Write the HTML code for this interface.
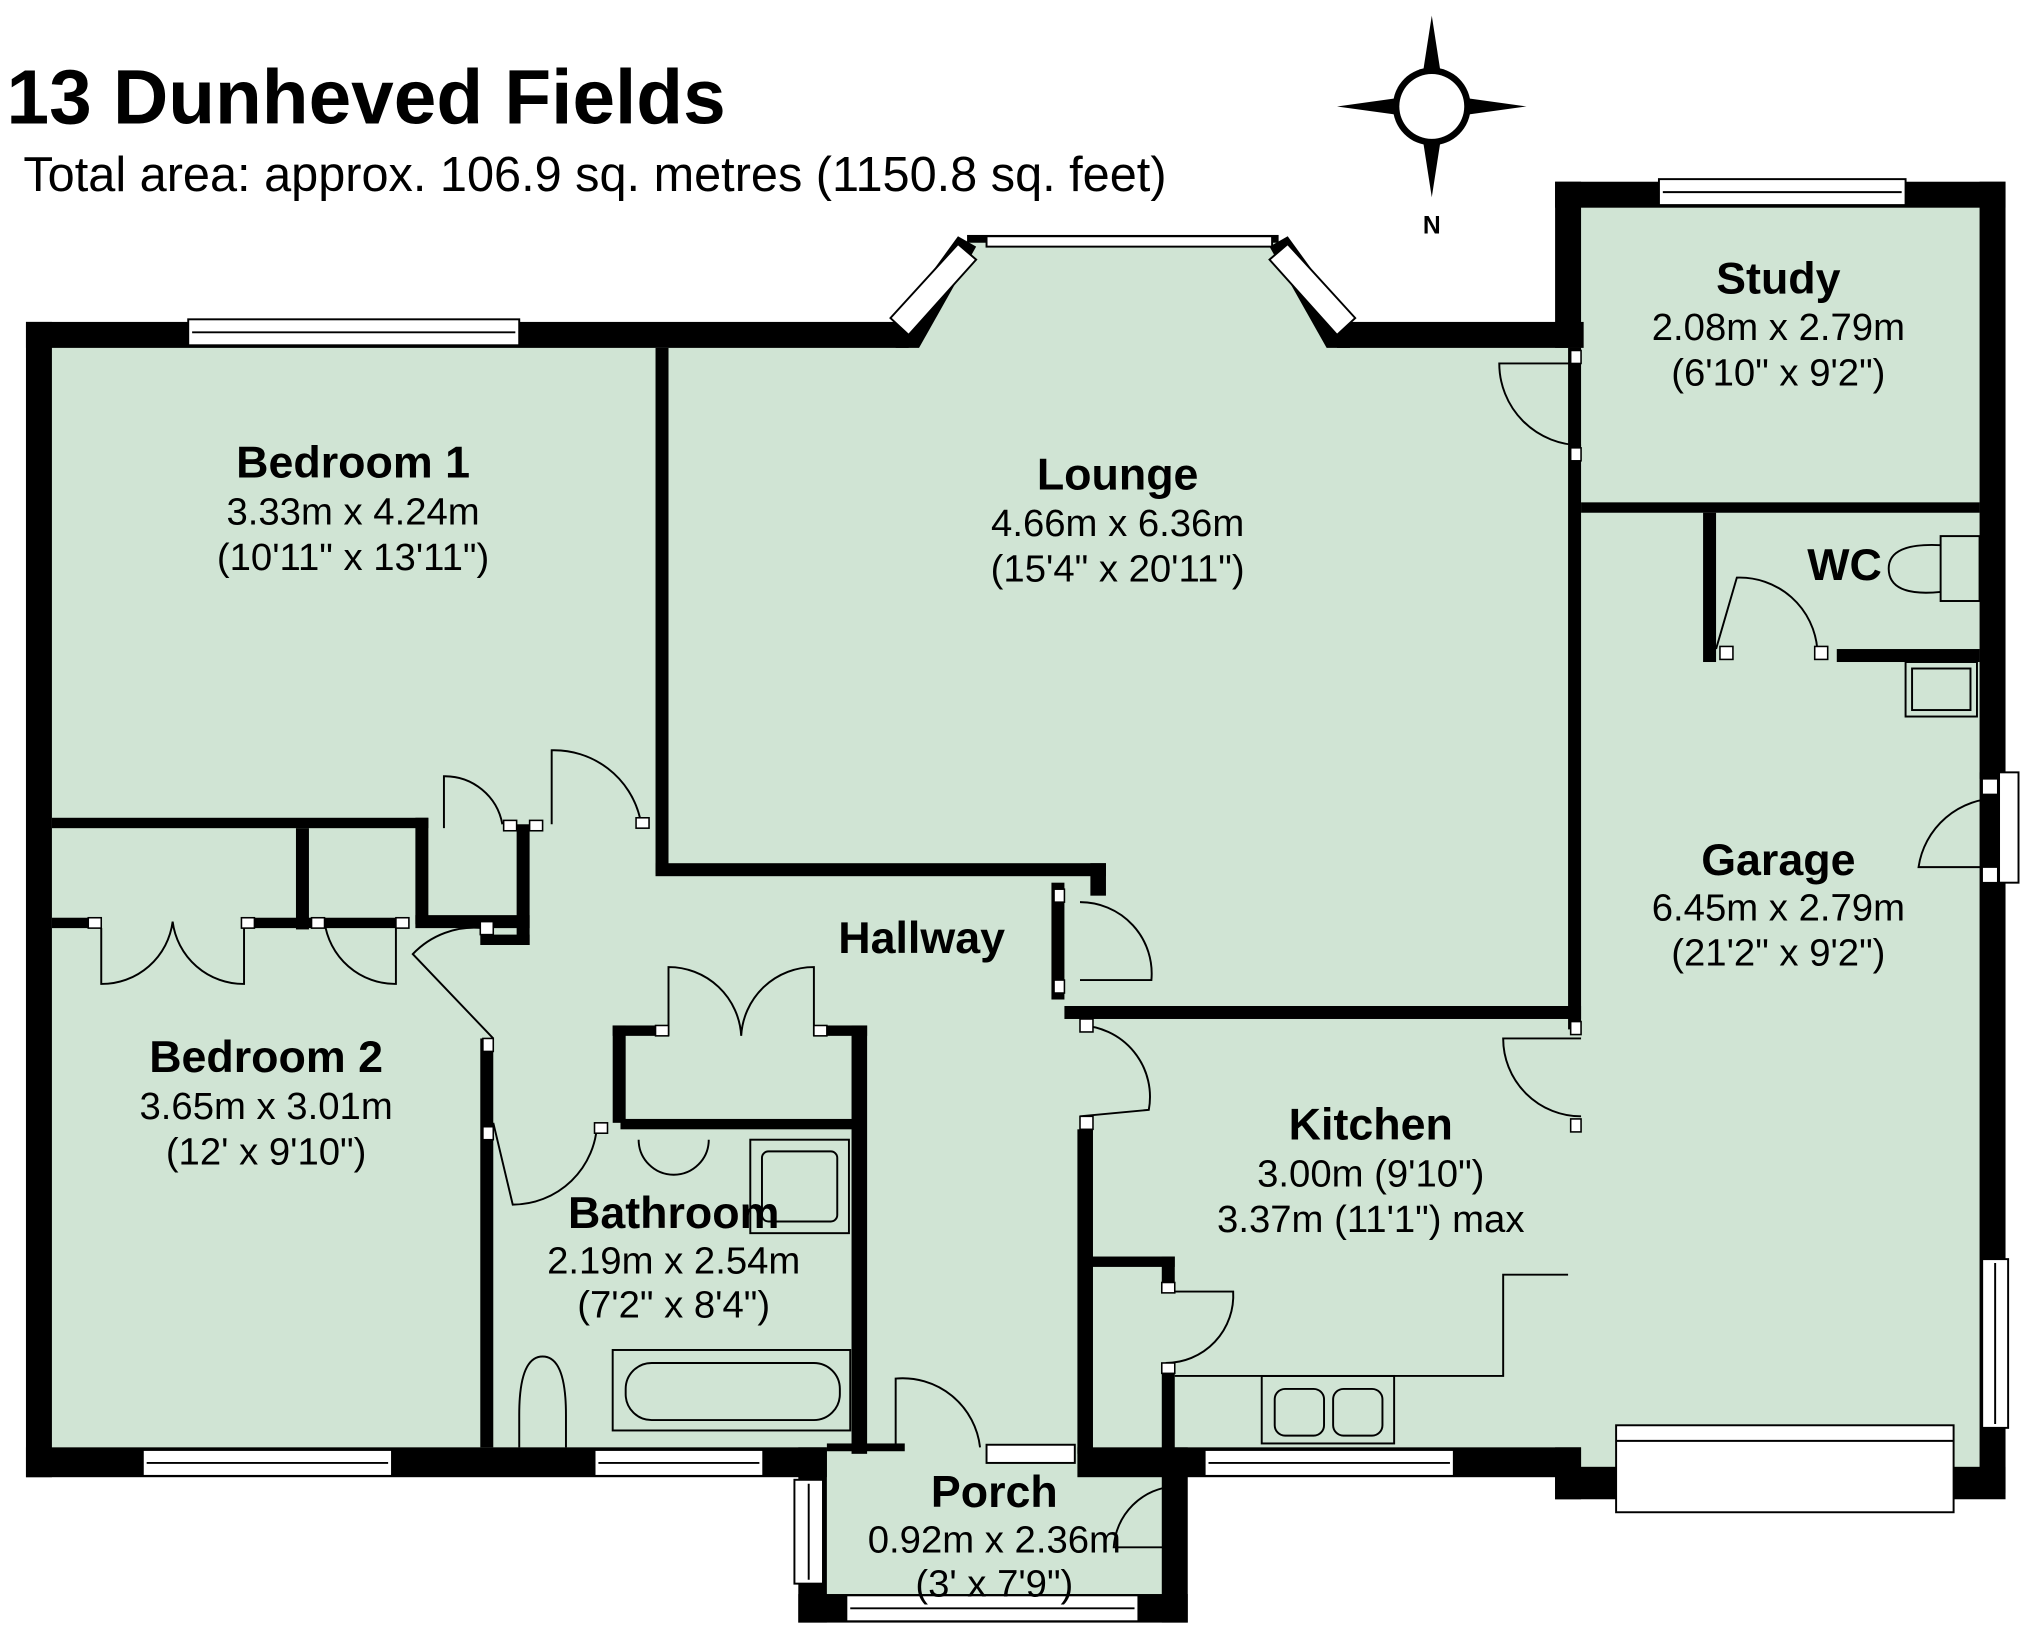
<!DOCTYPE html>
<html><head><style>html,body{margin:0;padding:0;background:#fff}svg{display:block}</style></head><body>
<svg width="2025" height="1644" viewBox="0 0 1560 1266.5" preserveAspectRatio="none" xmlns="http://www.w3.org/2000/svg" font-family="Liberation Sans, sans-serif">
<polygon fill="#d0e4d4" points="30,258 700,258 745,185 985,185 1030,258 1208,258 1208,150 1535,150 1535,1140 1208,1140 1208,1128 905,1128 905,1240 626,1240 626,1128 30,1128"/>
<g fill="#000">
<rect x="20" y="248" width="680" height="20"/>
<rect x="20" y="248" width="20" height="890"/>
<rect x="20" y="1115" width="617" height="23"/>
<polygon points="690,248 738,182 752,190 708,268 690,268"/>
<polygon points="978,190 992,182 1040,248 1040,268 1022,268"/>
<rect x="745" y="181" width="240" height="6"/>
<rect x="1030" y="248" width="190" height="20"/>
<rect x="1198" y="140" width="20" height="128"/>
<rect x="1198" y="140" width="347" height="20"/>
<rect x="1525" y="140" width="20" height="1010"/>
<rect x="1198" y="1130" width="347" height="25"/>
<rect x="1198" y="1115" width="20" height="40"/>
<rect x="615" y="1115" width="22" height="135"/>
<rect x="615" y="1228" width="300" height="22"/>
<rect x="895" y="1115" width="20" height="135"/>
<rect x="830" y="1115" width="388" height="23"/>
<rect x="637" y="1112" width="60" height="6"/>
<rect x="505" y="268" width="10" height="405"/>
<rect x="505" y="665" width="347" height="10"/>
<rect x="840" y="665" width="12" height="25"/>
<rect x="1208" y="268" width="10" height="525"/>
<rect x="820" y="775" width="398" height="10"/>
<rect x="1218" y="387" width="307" height="8"/>
<rect x="1312" y="395" width="10" height="115"/>
<rect x="1415" y="500" width="110" height="10"/>
<rect x="40" y="630" width="290" height="8"/>
<rect x="228" y="638" width="10" height="78"/>
<rect x="320" y="630" width="10" height="82"/>
<rect x="320" y="705" width="88" height="10"/>
<rect x="398" y="635" width="10" height="93"/>
<rect x="370" y="720" width="38" height="8"/>
<rect x="40" y="707" width="30" height="8"/>
<rect x="190" y="707" width="120" height="8"/>
<rect x="370" y="800" width="10" height="315"/>
<rect x="472" y="790" width="10" height="75"/>
<rect x="472" y="790" width="40" height="8"/>
<rect x="630" y="790" width="38" height="8"/>
<rect x="656" y="790" width="12" height="330"/>
<rect x="478" y="862" width="180" height="8"/>
<rect x="830" y="870" width="12" height="250"/>
<rect x="840" y="968" width="65" height="8"/>
<rect x="895" y="968" width="10" height="20"/>
<rect x="895" y="1055" width="10" height="65"/>
<rect x="810" y="680" width="10" height="90"/>
<rect x="1525" y="595" width="20" height="5"/>
</g>
<g fill="#fff" stroke="#000" stroke-width="1.5">
<rect x="145" y="246" width="255" height="20"/><line x1="148" y1="256" x2="397" y2="256"/>
<rect x="1278" y="138" width="190" height="20"/><line x1="1281" y1="148" x2="1465" y2="148"/>
<rect x="110" y="1117" width="192" height="20"/><line x1="113" y1="1127" x2="299" y2="1127"/>
<rect x="458" y="1117" width="130" height="20"/><line x1="461" y1="1127" x2="585" y2="1127"/>
<rect x="928" y="1117" width="192" height="20"/><line x1="931" y1="1127" x2="1117" y2="1127"/>
<rect x="652" y="1229" width="225" height="20"/><line x1="655" y1="1239" x2="874" y2="1239"/>
<rect x="612" y="1140" width="22" height="80"/><line x1="623" y1="1143" x2="623" y2="1217"/>
<rect x="1527" y="970" width="20" height="130"/><line x1="1537" y1="973" x2="1537" y2="1097"/>
<rect x="1540" y="595" width="15" height="85"/>
<rect x="760" y="1113" width="68" height="14"/>
<rect x="1245" y="1098" width="260" height="67"/><line x1="1245" y1="1110" x2="1505" y2="1110"/>
<rect x="760" y="182" width="220" height="8"/>
<polygon points="686,245 738,188 752,200 700,258"/>
<polygon points="978,200 992,188 1044,245 1030,258"/>
</g>
<g fill="none" stroke="#000" stroke-width="1.5">
<path d="M1218,280 L1155,280 A63,63 0 0 0 1218,343"/>
<path d="M1322,500 L1338,445 A60,60 0 0 1 1400,500"/>
<path d="M1540,615 A62,62 0 0 0 1478,668 L1540,668"/>
<path d="M832,695 A55,55 0 0 1 887,755 L832,755"/>
<path d="M832,790 A55,55 0 0 1 885,855 L832,860"/>
<path d="M1218,800 L1158,800 A60,60 0 0 0 1218,860"/>
<path d="M905,995 L950,995 A52,52 0 0 1 898,1050"/>
<path d="M690,1115 L690,1062 A60,60 0 0 1 755,1115"/>
<path d="M905,1145 A50,50 0 0 0 858,1192 L905,1192"/>
<path d="M342,638 L342,598 A45,45 0 0 1 387,635"/>
<path d="M425,635 L425,578 A68,68 0 0 1 493,630"/>
<path d="M380,800 L318,735 A65,65 0 0 1 372,715"/>
<path d="M380,865 L395,928 A65,65 0 0 0 460,865"/>
<path d="M78,715 L78,758 A55,55 0 0 0 133,710 A55,55 0 0 0 188,758 L188,715"/>
<path d="M250,710 A55,55 0 0 0 305,758 L305,710"/>
<path d="M515,798 L515,745 A56,56 0 0 1 571,798 A56,56 0 0 1 627,745 L627,798"/>
<rect x="578" y="878" width="76" height="72"/><rect x="587" y="887" width="58" height="54" rx="5"/>
<path d="M492,878 A27,27 0 0 0 546,878"/>
<rect x="472" y="1040" width="183" height="62"/><rect x="482" y="1050" width="165" height="44" rx="20"/>
<path d="M400,1115 L400,1090 Q400,1045 418,1045 Q436,1045 436,1090 L436,1115"/>
<rect x="972" y="1060" width="102" height="52"/><rect x="982" y="1070" width="38" height="36" rx="8"/><rect x="1027" y="1070" width="38" height="36" rx="8"/>
<path d="M905,1060 L1158,1060 L1158,982 L1208,982"/>
<rect x="1468" y="510" width="55" height="42"/><rect x="1473" y="515" width="45" height="32"/>
<rect x="1495" y="413" width="30" height="50"/><path d="M1495,420 Q1455,418 1455,438 Q1455,460 1495,456"/>
</g>
<g fill="#fff" stroke="#000" stroke-width="1.2">
<rect x="1210" y="270" width="8" height="10"/><rect x="1210" y="345" width="8" height="10"/>
<rect x="1210" y="787" width="8" height="10"/><rect x="1210" y="862" width="8" height="10"/>
<rect x="1325" y="498" width="10" height="10"/><rect x="1398" y="498" width="10" height="10"/>
<rect x="388" y="632" width="10" height="8"/><rect x="408" y="632" width="10" height="8"/><rect x="490" y="630" width="10" height="8"/>
<rect x="832" y="785" width="10" height="10"/><rect x="832" y="860" width="10" height="10"/>
<rect x="812" y="685" width="8" height="10"/><rect x="812" y="755" width="8" height="10"/>
<rect x="370" y="710" width="10" height="10"/><rect x="372" y="800" width="8" height="10"/><rect x="372" y="868" width="8" height="10"/>
<rect x="458" y="865" width="10" height="8"/><rect x="505" y="790" width="10" height="8"/><rect x="627" y="790" width="10" height="8"/>
<rect x="68" y="707" width="10" height="8"/><rect x="186" y="707" width="10" height="8"/><rect x="240" y="707" width="10" height="8"/><rect x="305" y="707" width="10" height="8"/>
<rect x="895" y="988" width="10" height="8"/><rect x="895" y="1050" width="10" height="8"/>
<rect x="1527" y="600" width="12" height="12"/><rect x="1527" y="668" width="12" height="12"/>
</g>
<g>
<polygon points="1103,12 1112,70 1103,82 1094,70" fill="#000"/>
<polygon points="1103,152 1112,94 1103,82 1094,94" fill="#000"/>
<polygon points="1030,82 1088,74 1103,82 1088,90" fill="#000"/>
<polygon points="1176,82 1118,74 1103,82 1118,90" fill="#000"/>
<circle cx="1103" cy="82" r="30" fill="#000"/><circle cx="1103" cy="82" r="25" fill="#fff"/>
<text x="1103" y="180" font-size="19" font-weight="bold" text-anchor="middle">N</text>
</g>
<text x="5" y="95" font-size="59" font-weight="bold">13 Dunheved Fields</text>
<text x="18" y="147" font-size="37.5">Total area: approx. 106.9 sq. metres (1150.8 sq. feet)</text>
<g text-anchor="middle" font-size="29.5">
<text x="272" y="368" font-size="34.5" font-weight="bold">Bedroom 1</text><text x="272" y="404">3.33m x 4.24m</text><text x="272" y="439">(10'11" x 13'11")</text>
<text x="861" y="377" font-size="34.5" font-weight="bold">Lounge</text><text x="861" y="413">4.66m x 6.36m</text><text x="861" y="448">(15'4" x 20'11")</text>
<text x="1370" y="226" font-size="34.5" font-weight="bold">Study</text><text x="1370" y="262">2.08m x 2.79m</text><text x="1370" y="297">(6'10" x 9'2")</text>
<text x="1421" y="447" font-size="34.5" font-weight="bold">WC</text>
<text x="1370" y="674" font-size="34.5" font-weight="bold">Garage</text><text x="1370" y="709">6.45m x 2.79m</text><text x="1370" y="744">(21'2" x 9'2")</text>
<text x="710" y="734" font-size="34.5" font-weight="bold">Hallway</text>
<text x="205" y="826" font-size="34.5" font-weight="bold">Bedroom 2</text><text x="205" y="862">3.65m x 3.01m</text><text x="205" y="897">(12' x 9'10")</text>
<text x="1056" y="878" font-size="34.5" font-weight="bold">Kitchen</text><text x="1056" y="914">3.00m (9'10")</text><text x="1056" y="949">3.37m (11'1") max</text>
<text x="519" y="946" font-size="34.5" font-weight="bold">Bathroom</text><text x="519" y="981">2.19m x 2.54m</text><text x="519" y="1015">(7'2" x 8'4")</text>
<text x="766" y="1161" font-size="34.5" font-weight="bold">Porch</text><text x="766" y="1196">0.92m x 2.36m</text><text x="766" y="1230">(3' x 7'9")</text>
</g>
</svg>
</body></html>
